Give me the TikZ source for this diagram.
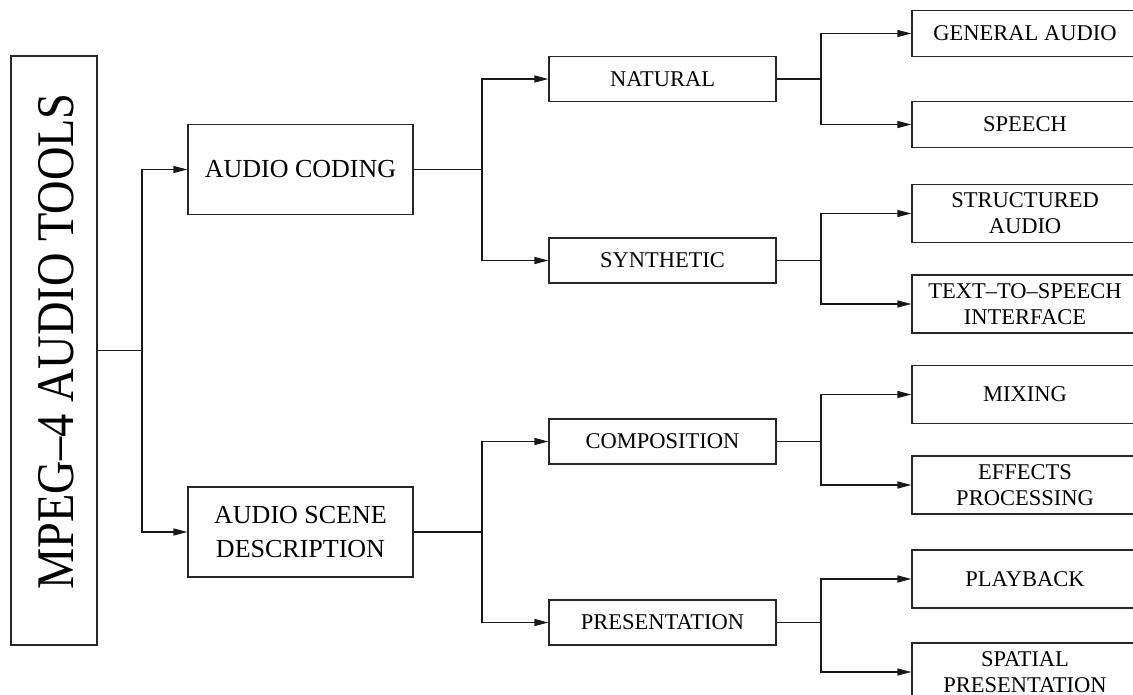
\documentclass[tikz,border=0pt]{standalone}
\usepackage{fontspec}
\setmainfont{Liberation Serif}
\usetikzlibrary{arrows.meta}
\tikzset{
  box/.style={draw=black!85, line width=1.2pt, inner sep=0pt, align=center},
  leafbox/.style={box, minimum width=226pt, font=\fontsize{22.5}{26}\selectfont},
  midbox/.style={box, minimum width=227pt, minimum height=45pt, font=\fontsize{22.5}{26}\selectfont},
  topbox/.style={box, minimum width=225pt, minimum height=90pt, font=\fontsize{26}{34}\selectfont},
  conn/.style={draw=black!90, line width=1.2pt},
  arr/.style={conn, -{Triangle[length=14pt,width=7pt]}}
}
\begin{document}
\begin{tikzpicture}[x=1pt,y=-1pt]
\useasboundingbox (0,0) rectangle (1133,695);
\clip (0,0) rectangle (1133,695);
\fill[white] (0,0) rectangle (1133,695);
% root
\node[box, minimum width=86pt, minimum height=589pt] (root) at (54,350.5) {};
\node[rotate=90, font=\fontsize{46.4}{50}\selectfont] (roottxt) at (56,341.5) {\scalebox{1}[1.14]{MPEG\textendash4 AUDIO TOOLS}};
% level 1
\node[topbox] (ac) at (300.5,169.5) {AUDIO CODING};
\node[topbox] (asd) at (300.5,532) {AUDIO SCENE\\DESCRIPTION};
% level 2
\node[midbox] (nat) at (662.5,79) {NATURAL};
\node[midbox] (syn) at (662.5,260.5) {SYNTHETIC};
\node[midbox] (comp) at (662.5,441.5) {COMPOSITION};
\node[midbox] (pres) at (662.5,622.5) {PRESENTATION};
% leaves
\node[leafbox, minimum height=46pt] (ga) at (1025,33.5) {GENERAL AUDIO};
\node[leafbox, minimum height=46pt] (sp) at (1025,124.5) {SPEECH};
\node[leafbox, minimum height=58pt] (sa) at (1025,213.5) {STRUCTURED\\AUDIO};
\node[leafbox, minimum height=58pt] (tts) at (1025,304) {TEXT\textendash TO\textendash SPEECH\\INTERFACE};
\node[leafbox, minimum height=58pt] (mix) at (1025,394.5) {MIXING};
\node[leafbox, minimum height=58pt] (eff) at (1025,485) {EFFECTS\\PROCESSING};
\node[leafbox, minimum height=58pt] (pb) at (1025,579) {PLAYBACK};
\node[leafbox, minimum height=58pt] (spa) at (1025,672) {SPATIAL\\PRESENTATION};
% junctions
\coordinate (j0) at (142,350.5);
\coordinate (j1) at (482,169.5);
\coordinate (j2) at (482,532);
\coordinate (j3) at (821,79);
\coordinate (j4) at (821,260.5);
\coordinate (j5) at (821,441.5);
\coordinate (j6) at (821,622.5);
% connectors
\draw[conn] (root.east) -- (j0);
\draw[arr] (j0) |- (ac.west);
\draw[arr] (j0) |- (asd.west);
\draw[conn] (ac.east) -- (j1);
\draw[arr] (j1) |- (nat.west);
\draw[arr] (j1) |- (syn.west);
\draw[conn] (asd.east) -- (j2);
\draw[arr] (j2) |- (comp.west);
\draw[arr] (j2) |- (pres.west);
\draw[conn] (nat.east) -- (j3);
\draw[arr] (j3) |- (ga.west);
\draw[arr] (j3) |- (sp.west);
\draw[conn] (syn.east) -- (j4);
\draw[arr] (j4) |- (sa.west);
\draw[arr] (j4) |- (tts.west);
\draw[conn] (comp.east) -- (j5);
\draw[arr] (j5) |- (mix.west);
\draw[arr] (j5) |- (eff.west);
\draw[conn] (pres.east) -- (j6);
\draw[arr] (j6) |- (pb.west);
\draw[arr] (j6) |- (spa.west);
\end{tikzpicture}
\end{document}
